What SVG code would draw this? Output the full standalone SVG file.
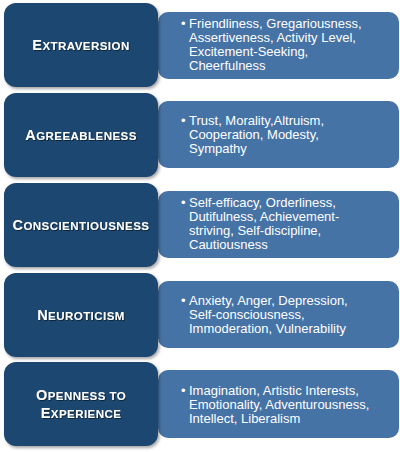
<svg xmlns="http://www.w3.org/2000/svg" width="400" height="452" viewBox="0 0 400 452">
<defs>
<filter id="sh" x="-10%" y="-10%" width="130%" height="130%">
<feDropShadow dx="1.5" dy="2" stdDeviation="1.5" flood-color="#000" flood-opacity="0.35"/>
</filter>
<filter id="tsh" x="-10%" y="-30%" width="120%" height="160%">
<feDropShadow dx="0.8" dy="0.8" stdDeviation="0.4" flood-color="#000" flood-opacity="0.6"/>
</filter>
</defs>
<style>
.det{fill:#4673A6;}
.cat{fill:#1E466F;filter:url(#sh);}
.t{font-family:"Liberation Sans",Arial,sans-serif;font-weight:bold;fill:#fff;text-anchor:middle;letter-spacing:0.45px;filter:url(#tsh);font-size:11.5px;}
.cap{font-size:14.5px;}
.d{font-family:"Liberation Sans",Arial,sans-serif;font-size:13px;fill:#fff;}
</style>
<g id="connectors"/>
<g id="extraversion-details">
<rect class="det" x="158" y="12" width="241" height="67" rx="10"/>
<text class="d"><tspan x="181" y="28">•</tspan><tspan x="189" y="28">Friendliness, Gregariousness,</tspan><tspan x="189" y="42">Assertiveness, Activity Level,</tspan><tspan x="189" y="56">Excitement-Seeking,</tspan><tspan x="189" y="70">Cheerfulness</tspan></text>
</g>
<g id="extraversion">
<rect class="cat" x="4" y="3" width="154" height="84" rx="12"/>
<text class="t" x="81" y="50"><tspan class="cap">E</tspan>XTRAVERSION</text>
</g>
<g id="agreeableness-details">
<rect class="det" x="158" y="101" width="241" height="67" rx="10"/>
<text class="d"><tspan x="181" y="125">•</tspan><tspan x="189" y="125">Trust, Morality,Altruism,</tspan><tspan x="189" y="139">Cooperation, Modesty,</tspan><tspan x="189" y="153">Sympathy</tspan></text>
</g>
<g id="agreeableness">
<rect class="cat" x="4" y="93" width="154" height="84" rx="12"/>
<text class="t" x="81" y="140"><tspan class="cap">A</tspan>GREEABLENESS</text>
</g>
<g id="conscientiousness-details">
<rect class="det" x="158" y="191" width="241" height="67" rx="10"/>
<text class="d"><tspan x="181" y="207">•</tspan><tspan x="189" y="207">Self-efficacy, Orderliness,</tspan><tspan x="189" y="221">Dutifulness, Achievement-</tspan><tspan x="189" y="235">striving, Self-discipline,</tspan><tspan x="189" y="249">Cautiousness</tspan></text>
</g>
<g id="conscientiousness">
<rect class="cat" x="4" y="183" width="154" height="84" rx="12"/>
<text class="t" x="81" y="230"><tspan class="cap">C</tspan>ONSCIENTIOUSNESS</text>
</g>
<g id="neuroticism-details">
<rect class="det" x="158" y="281" width="241" height="67" rx="10"/>
<text class="d"><tspan x="181" y="305">•</tspan><tspan x="189" y="305">Anxiety, Anger, Depression,</tspan><tspan x="189" y="319">Self-consciousness,</tspan><tspan x="189" y="333">Immoderation, Vulnerability</tspan></text>
</g>
<g id="neuroticism">
<rect class="cat" x="4" y="273" width="154" height="84" rx="12"/>
<text class="t" x="81" y="320"><tspan class="cap">N</tspan>EUROTICISM</text>
</g>
<g id="openness-details">
<rect class="det" x="158" y="370" width="241" height="68" rx="10"/>
<text class="d"><tspan x="181" y="395">•</tspan><tspan x="189" y="395">Imagination, Artistic Interests,</tspan><tspan x="189" y="409">Emotionality, Adventurousness,</tspan><tspan x="189" y="423">Intellect, Liberalism</tspan></text>
</g>
<g id="openness">
<rect class="cat" x="4" y="362" width="154" height="84" rx="12"/>
<text class="t" x="81" y="400"><tspan class="cap">O</tspan>PENNESS TO</text>
<text class="t" x="81" y="418"><tspan class="cap">E</tspan>XPERIENCE</text>
</g>
</svg>
